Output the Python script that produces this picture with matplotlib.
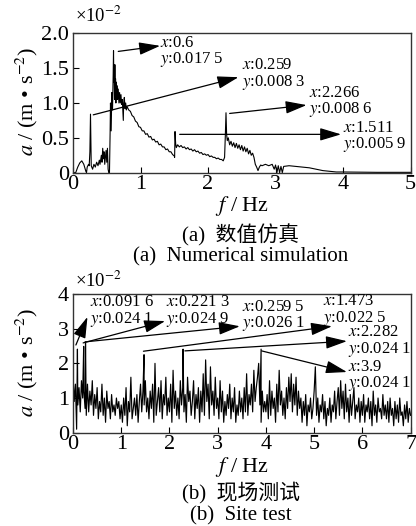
import numpy as np
import matplotlib
matplotlib.use("Agg")
import matplotlib.pyplot as plt

plt.rcParams['font.family'] = ['Liberation Serif', 'Noto Sans CJK SC', 'DejaVu Sans']
plt.rcParams['mathtext.fontset'] = 'stix'

# ---------------- data: (a) numerical simulation (units 1e-2 m/s^2) ----------------
sim_f = [0, 0.04, 0.07, 0.10, 0.13, 0.16, 0.19, 0.20, 0.21, 0.23, 0.24, 0.25, 0.259, 0.265, 0.27,
         0.29, 0.31, 0.33, 0.35, 0.37, 0.39, 0.40, 0.42, 0.43, 0.44, 0.45, 0.46, 0.47, 0.48, 0.49,
         0.50, 0.51, 0.52, 0.53, 0.54, 0.55, 0.555, 0.565, 0.575, 0.585, 0.595, 0.60, 0.605, 0.61,
         0.615, 0.62, 0.625, 0.63, 0.635, 0.64, 0.645, 0.65, 0.66, 0.67, 0.68, 0.69, 0.70, 0.71,
         0.72, 0.73, 0.74, 0.745, 0.75, 0.76, 0.77, 0.78, 0.79,
         0.80, 0.825, 0.85, 0.875, 0.90, 0.925, 0.95, 0.975, 1.0, 1.025, 1.05, 1.075, 1.10, 1.125,
         1.15, 1.175, 1.20, 1.225, 1.25, 1.275, 1.30, 1.325, 1.35, 1.375, 1.40, 1.425, 1.45, 1.475,
         1.50, 1.505, 1.511, 1.52, 1.53, 1.55, 1.575, 1.60, 1.625, 1.65, 1.675, 1.70, 1.725, 1.75,
         1.775, 1.80, 1.825, 1.85, 1.875, 1.90, 1.925, 1.95, 1.975, 2.0, 2.025, 2.05, 2.075, 2.10,
         2.125, 2.15, 2.175, 2.20, 2.225, 2.245, 2.255, 2.266, 2.275, 2.285, 2.30, 2.32, 2.34, 2.36,
         2.38, 2.40, 2.42, 2.44, 2.46, 2.48, 2.50, 2.52, 2.54, 2.56, 2.58, 2.60, 2.62, 2.64, 2.66,
         2.68, 2.70, 2.72, 2.74, 2.76, 2.78, 2.80, 2.85, 2.90, 2.95, 2.98, 3.00, 3.02, 3.04, 3.06,
         3.08, 3.10, 3.12, 3.2, 3.3, 3.4, 3.5, 3.6, 3.7, 3.8, 3.9, 4.0, 4.5, 5.0]
sim_a = [0, 0.0, 0.08, 0.14, 0.17, 0.12, 0.02, 0.0, 0.08, 0.12, 0.10, 0.30, 0.84, 0.40, 0.10,
         0.05, 0.12, 0.08, 0.15, 0.10, 0.18, 0.12, 0.25, 0.15, 0.35, 0.20, 0.30, 0.12, 0.22, 0.32,
         0.15, 0.35, 0.05, 0.0, 0.0, 0.60, 1.00, 0.60, 1.15, 0.90, 1.40, 1.75, 1.30, 1.45,
         1.05, 1.55, 1.10, 1.35, 1.00, 1.30, 1.05, 1.25, 1.05, 1.20, 1.00, 1.15, 1.00, 1.12,
         0.98, 1.05, 0.85, 0.75, 1.00, 1.08, 0.92, 1.00, 0.90,
         0.95, 0.90, 0.88, 0.82, 0.80, 0.74, 0.72, 0.66, 0.65, 0.60, 0.60, 0.55, 0.56, 0.51,
         0.52, 0.47, 0.48, 0.44, 0.45, 0.40, 0.41, 0.37, 0.37, 0.33, 0.34, 0.30, 0.30, 0.26,
         0.24, 0.22, 0.59, 0.42, 0.36, 0.40, 0.37, 0.39, 0.36, 0.37, 0.34, 0.36, 0.33, 0.34,
         0.31, 0.33, 0.30, 0.31, 0.28, 0.29, 0.26, 0.27, 0.25, 0.26, 0.23, 0.24, 0.22, 0.22,
         0.20, 0.21, 0.19, 0.19, 0.17, 0.22, 0.50, 0.86, 0.55, 0.46, 0.50, 0.40, 0.45, 0.38,
         0.43, 0.36, 0.42, 0.35, 0.40, 0.33, 0.39, 0.31, 0.37, 0.30, 0.35, 0.27, 0.32, 0.25, 0.28,
         0.22, 0.12, 0.08, 0.03, 0.08, 0.11, 0.10, 0.12, 0.10, 0.12, 0.05, 0.11, 0.0, 0.10, 0.0,
         0.09, 0.0, 0.09, 0.10, 0.09, 0.08, 0.07, 0.05, 0.03, 0.02, 0.01, 0.01, 0.005, 0.005]

sim_ann_text = [("0.6", "0.017 5"), ("0.259", "0.008 3"), ("2.266", "0.008 6"), ("1.511", "0.005 9")]

# ---------------- data: (b) site test (units 1e-2 m/s^2), bins of 0.025 Hz ----------------
site_bins = [
    [1.7, 0.9, 1.4, 0.1, 0.8, 1.3, 0.6, 1.5, 1.0, 1.2, 0.7, 0.5, 1.4, 0.6, 1.2, 0.8, 1.5, 0.5, 1.1, 0.7],
    [1.3, 0.4, 0.9, 0.6, 1.4, 0.5, 1.0, 0.3, 1.2, 0.7, 0.9, 0.4, 1.1, 0.6, 0.8, 0.5, 1.0, 0.7, 0.9, 0.4],
    [0.8, 0.3, 1.0, 0.5, 1.3, 0.2, 0.9, 0.6, 1.6, 0.4, 0.7, 1.0, 0.5, 1.1, 0.3, 0.9, 1.4, 0.6, 1.2, 0.8],
    [1.5, 0.6, 1.0, 0.4, 1.2, 0.7, 1.4, 0.3, 2.0, 0.5, 0.9, 1.3, 0.6, 1.5, 0.4, 1.1, 0.8, 1.6, 0.5, 1.0],
    [0.6, 1.4, 0.3, 1.8, 0.7, 1.2, 0.5, 1.0, 0.4, 1.5, 0.8, 1.3, 0.6, 1.1, 0.3, 1.6, 0.9, 1.2, 0.5, 0.9],
    [1.5, 0.4, 1.1, 0.7, 1.3, 0.3, 1.2, 0.6, 1.7, 0.5, 2.1, 0.9, 1.4, 0.4, 1.9, 0.8, 1.2, 0.5, 1.6, 0.7],
    [1.0, 0.4, 1.5, 0.6, 1.2, 0.3, 0.9, 0.5, 1.1, 0.7, 1.4, 0.4, 1.0, 0.6, 1.3, 0.3, 0.8, 0.5, 1.2, 0.6],
    [1.0, 0.4, 1.3, 0.6, 1.7, 0.5, 1.1, 0.8, 1.4, 0.6, 1.8, 0.9, 1.3, 1.6, 2.0, 0.8, 0.3, 1.2, 0.6, 0.9],
    [0.6, 1.1, 0.4, 1.5, 0.5, 1.2, 0.7, 1.0, 0.3, 1.4, 0.6, 1.8, 0.8, 1.2, 0.5, 1.0, 0.4, 1.3, 0.7, 1.6],
    [0.9, 1.7, 0.6, 1.4, 0.8, 1.6, 0.5, 1.2, 0.7, 1.0, 0.3, 0.9, 0.5, 1.1, 0.2, 0.8, 0.6, 1.0, 0.4, 0.7],
    [1.2, 1.9, 0.5, 1.0, 0.3, 0.8, 0.6, 1.1, 0.4, 0.9, 0.2, 0.7, 0.5, 1.0, 0.3, 0.8, 0.6, 1.2, 0.4, 0.9],
    [1.3, 0.5, 1.5, 0.7, 1.2, 0.4, 1.4, 0.6, 1.0, 0.3, 1.1, 0.5, 0.9, 1.3, 0.4, 0.8, 0.6, 1.0, 0.3, 0.9],
    [0.5, 1.1, 0.3, 0.8, 0.6, 1.0, 0.4, 0.9, 0.2, 1.2, 0.5, 0.8, 0.3, 1.0, 0.6, 0.7, 0.4, 1.1, 0.5, 0.8],
    [0.4, 0.9, 0.3, 1.0, 0.5, 0.7, 0.2, 0.9, 0.4, 0.8, 0.3, 1.0, 0.5, 0.6, 0.2, 0.8, 0.4, 0.9, 0.3, 0.7, 0.5],
]
site_bin_width = 0.025
site_peak_f = [0.0916, 0.2213, 0.2595, 1.473, 2.282, 3.9]
site_peak_a = [2.41, 2.49, 2.61, 2.25, 2.41, 2.41]
site_ann_text = [("0.091 6", "0.024 1"), ("0.221 3", "0.024 9"), ("0.259 5", "0.026 1"),
                 ("1.473", "0.022 5"), ("2.282", "0.024 1"), ("3.9", "0.024 1")]

# ---------------- build series ----------------
site_a_grid = np.concatenate([np.array(b, dtype=float) for b in site_bins])
site_f_grid = np.arange(len(site_a_grid)) * site_bin_width
site_f = np.concatenate([site_f_grid, site_peak_f])
site_a = np.concatenate([site_a_grid, site_peak_a])
order = np.argsort(site_f, kind='stable')
site_f, site_a = site_f[order], site_a[order]

# ---------------- figure ----------------
fig = plt.figure(figsize=(4.16, 5.26), dpi=100)
ax1 = fig.add_axes([0.1755, 0.6717, 0.8115, 0.265])
ax2 = fig.add_axes([0.1755, 0.1774, 0.8115, 0.2636])

TICK_FS = 16
ANN_FS = 12
CAP_FS = 15

def style(ax, xlim, ylim, xticks, yticks, yticklabels):
    ax.set_xlim(*xlim)
    ax.set_ylim(*ylim)
    ax.set_xticks(xticks)
    ax.set_yticks(yticks)
    ax.set_yticklabels(yticklabels)
    ax.tick_params(direction='in', length=4, width=0.8, labelsize=TICK_FS, pad=2,
                   top=False, right=False)
    ax.tick_params(axis='y', pad=3)
    for s in ax.spines.values():
        s.set_linewidth(1.0)
        s.set_color('#333333')

ax1.plot(sim_f, sim_a, color='black', lw=0.8)
style(ax1, (0, 5), (0, 2.0), [0, 1, 2, 3, 4, 5], [0, 0.5, 1.0, 1.5, 2.0],
      ['0', '0.5', '1.0', '1.5', '2.0'])

ax2.plot(site_f, site_a, color='black', lw=0.85)
style(ax2, (0, 7), (0, 4), [0, 1, 2, 3, 4, 5, 6, 7], [0, 1, 2, 3, 4],
      ['0', '1', '2', '3', '4'])

arrow_kw = dict(arrowstyle='-|>,head_length=1.0,head_width=0.3', color='black', lw=0.9,
                shrinkA=0, shrinkB=0, mutation_scale=13)

def label(ax, lx, ly, xv, yv):
    ax.text(lx, ly, r'$\mathit{x}$:' + xv + '\n' + r'$\mathit{y}$:' + yv,
            fontsize=ANN_FS, va='center', ha='left', linespacing=0.95)

# annotations for (a): (tail f, tail a, head f, head a, text f, text centre a)
sim_ann_pos = [(0.67, 1.74, 1.29, 1.82, 1.29, 1.73),
               (0.30, 0.83, 2.45, 1.37, 2.50, 1.41),
               (2.32, 0.85, 3.46, 0.97, 3.50, 1.01),
               (1.58, 0.55, 3.97, 0.55, 4.00, 0.51)]
for (xv, yv), (tx, ty, hx, hy, lx, ly) in zip(sim_ann_text, sim_ann_pos):
    ax1.annotate('', xy=(hx, hy), xytext=(tx, ty), arrowprops=arrow_kw)
    label(ax1, lx, ly, xv, yv)

site_ann_pos = [(0.06, 2.53, 0.30, 3.34, 0.35, 3.50),
                (0.21, 2.59, 1.91, 3.22, 1.92, 3.50),
                (0.25, 2.62, 3.46, 3.07, 3.50, 3.37),
                (1.46, 2.35, 5.37, 3.07, 5.19, 3.52),
                (2.32, 2.36, 5.68, 2.64, 5.71, 2.63),
                (3.91, 2.36, 5.68, 1.75, 5.71, 1.64)]
for (xv, yv), (tx, ty, hx, hy, lx, ly) in zip(site_ann_text, site_ann_pos):
    ax2.annotate('', xy=(hx, hy), xytext=(tx, ty), arrowprops=arrow_kw)
    label(ax2, lx, ly, xv, yv)

# axis labels, multipliers, captions (figure pixel coordinates from top)
W, H = 416, 526
def ftext(x, y, s, **kw):
    fig.text(x / W, 1 - y / H, s, **kw)

ylab = r'$\mathit{a}$ / (m • s$^{-2}$)'
ftext(27, 101, ylab, rotation=90, ha='center', va='center', fontsize=TICK_FS)
ftext(27, 362, ylab, rotation=90, ha='center', va='center', fontsize=TICK_FS)
ftext(75, 16, r'×10$^{-2}$', ha='left', va='center', fontsize=13.5)
ftext(75, 281, r'×10$^{-2}$', ha='left', va='center', fontsize=13.5)
xlab = r'$\mathit{f}$ / Hz'
ftext(242, 206, xlab, ha='center', va='center', fontsize=TICK_FS)
ftext(242, 467, xlab, ha='center', va='center', fontsize=TICK_FS)
ftext(241, 235, '(a)  数值仿真', ha='center', va='center', fontsize=CAP_FS)
ftext(241, 257, '(a)  Numerical simulation', ha='center', va='center', fontsize=CAP_FS)
ftext(241, 493, '(b)  现场测试', ha='center', va='center', fontsize=CAP_FS)
ftext(241, 516, '(b)  Site test', ha='center', va='center', fontsize=CAP_FS)

fig.savefig('out.png', dpi=100)
